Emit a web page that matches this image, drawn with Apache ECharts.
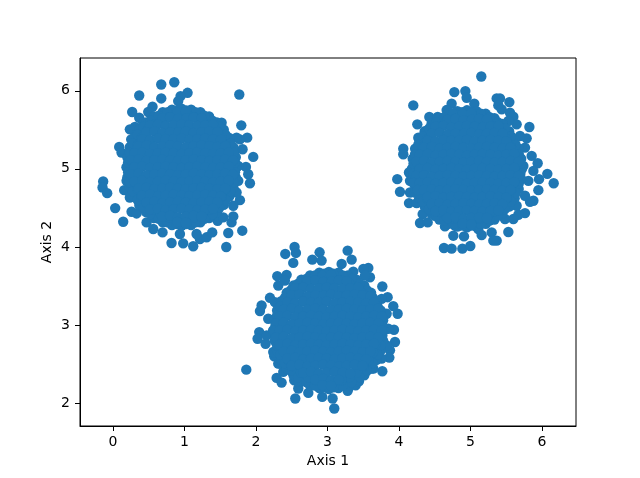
<!DOCTYPE html>
<html>
<head>
<meta charset="utf-8">
<style>html,body{margin:0;padding:0;background:#fff}#c{width:640px;height:478px}</style>
<script src="https://cdn.jsdelivr.net/npm/echarts@6/dist/echarts.min.js"></script>
</head>
<body>
<div id="c"></div>
<script>
const xTicks = [0,1,2,3,4,5,6];
const yTicks = [2,3,4,5,6];

const edgeA = [[.858,6.11],[.676,6.08],[.368,5.94],[1.767,5.953],[.676,5.902],[1.044,5.974],[.946,5.932],[.913,5.868],[.27,5.728],[.554,5.796],[.494,5.728],[.368,5.655],[1.795,5.557],[.307,5.536],[.237,5.506],[.256,5.378],[1.878,5.4],[1.776,5.378],[.088,5.281],[1.813,5.251],[.121,5.208],[1.962,5.153],[1.86,5.025],[1.892,4.931],[1.916,4.816],[-.136,4.838],[-.145,4.761],[-.08,4.689],[.158,4.727],[.032,4.497],[.261,4.45],[.331,4.429],[.144,4.323],[.471,4.314],[.564,4.229],[.694,4.186],[.82,4.05],[.983,4.046],[1.123,4.008],[1.216,4.101],[1.31,4.123],[1.389,4.186],[1.613,4.178],[1.809,4.208],[1.585,3.999],[1.659,4.314],[1.683,4.391],[1.776,4.599],[1.464,4.335]];

const bridgeA = [[.331,5.442],[.261,5.251],[.214,5.038],[.191,4.846],[.237,4.633],[.377,4.527],[1.729,5.40],[1.706,5.229],[1.753,5.038],[1.753,4.846],[1.729,4.697],[1.683,4.527],[1.543,4.378],[1.52,5.591],[.424,5.591],[1.17,4.165],[.937,4.165]];

const ringA = [[1.73,5.02],[1.718,5.15],[1.684,5.277],[1.627,5.395],[1.55,5.502],[1.455,5.595],[1.345,5.67],[1.223,5.725],[1.094,5.759],[.96,5.77],[.826,5.759],[.697,5.725],[.575,5.67],[.465,5.595],[.37,5.502],[.293,5.395],[.236,5.277],[.202,5.15],[.19,5.02],[.202,4.89],[.236,4.763],[.293,4.645],[.37,4.538],[.465,4.445],[.575,4.37],[.697,4.315],[.826,4.281],[.96,4.27],[1.094,4.281],[1.223,4.315],[1.345,4.37],[1.455,4.445],[1.55,4.538],[1.627,4.645],[1.684,4.763],[1.718,4.89]];

const outerA = [[1.707,5.084],[.213,5.084],[1.707,4.956],[.213,4.956],[1.685,5.209],[.235,5.209],[1.685,4.831],[.235,4.831],[1.64,5.329],[.28,5.329],[1.64,4.711],[.28,4.711],[1.574,5.439],[.346,5.439],[1.574,4.601],[.346,4.601],[1.49,5.536],[.43,5.536],[1.49,4.504],[.43,4.504],[1.39,5.618],[.53,5.618],[1.39,4.422],[.53,4.422],[1.277,5.681],[.643,5.681],[1.277,4.359],[.643,4.359],[1.154,5.725],[.766,5.725],[1.154,4.315],[.766,4.315],[1.025,5.747],[.895,5.747],[1.025,4.293],[.895,4.293]];

const innerA = [[1.637,5.077],[.283,5.077],[1.637,4.963],[.283,4.963],[1.617,5.191],[.303,5.191],[1.617,4.849],[.303,4.849],[1.576,5.299],[.344,5.299],[1.576,4.741],[.344,4.741],[1.517,5.399],[.403,5.399],[1.517,4.641],[.403,4.641],[1.441,5.487],[.479,5.487],[1.441,4.553],[.479,4.553],[1.35,5.561],[.57,5.561],[1.35,4.479],[.57,4.479],[1.248,5.618],[.672,5.618],[1.248,4.422],[.672,4.422],[1.136,5.658],[.784,5.658],[1.136,4.382],[.784,4.382],[1.019,5.677],[.901,5.677],[1.019,4.363],[.901,4.363]];

const coreA = [
[.90,5.72],[1.02,5.73],
[.69,5.65],[.80,5.66],[.91,5.64],[1.03,5.65],[1.13,5.66],[1.24,5.65],
[.52,5.56],[.63,5.57],[.74,5.55],[.85,5.56],[.96,5.57],[1.07,5.56],[1.18,5.55],[1.29,5.56],[1.40,5.57],
[.47,5.47],[.58,5.48],[.69,5.46],[.80,5.47],[.92,5.47],[1.02,5.48],[1.13,5.46],[1.24,5.47],[1.35,5.48],[1.46,5.47],
[.41,5.38],[.52,5.37],[.63,5.39],[.74,5.38],[.85,5.38],[.96,5.39],[1.07,5.37],[1.18,5.38],[1.29,5.39],[1.40,5.38],[1.51,5.37],
[.36,5.29],[.47,5.30],[.58,5.28],[.69,5.29],[.80,5.30],[.91,5.29],[1.02,5.28],[1.13,5.29],[1.24,5.30],[1.35,5.29],[1.46,5.28],[1.57,5.29],
[.30,5.20],[.41,5.21],[.52,5.19],[.63,5.20],[.74,5.21],[.85,5.20],[.96,5.19],[1.07,5.20],[1.18,5.21],[1.29,5.20],[1.40,5.19],[1.51,5.20],[1.62,5.21],
[.25,5.11],[.36,5.12],[.47,5.10],[.58,5.11],[.69,5.12],[.80,5.11],[.91,5.10],[1.02,5.11],[1.13,5.12],[1.24,5.11],[1.35,5.10],[1.46,5.11],[1.57,5.12],[1.68,5.11],
[.30,5.02],[.41,5.03],[.52,5.01],[.63,5.02],[.74,5.03],[.85,5.02],[.96,5.01],[1.07,5.02],[1.18,5.03],[1.29,5.02],[1.40,5.01],[1.51,5.02],[1.62,5.03],
[.25,4.93],[.36,4.94],[.47,4.92],[.58,4.93],[.69,4.94],[.80,4.93],[.91,4.92],[1.02,4.93],[1.13,4.94],[1.24,4.93],[1.35,4.92],[1.46,4.93],[1.57,4.94],[1.68,4.93],
[.30,4.84],[.41,4.85],[.52,4.83],[.63,4.84],[.74,4.85],[.85,4.84],[.96,4.83],[1.07,4.84],[1.18,4.85],[1.29,4.84],[1.40,4.83],[1.51,4.84],[1.62,4.85],
[.36,4.75],[.47,4.76],[.58,4.74],[.69,4.75],[.80,4.76],[.91,4.75],[1.02,4.74],[1.13,4.75],[1.24,4.76],[1.35,4.75],[1.46,4.74],[1.57,4.75],
[.41,4.66],[.52,4.67],[.63,4.65],[.74,4.66],[.85,4.67],[.96,4.66],[1.07,4.65],[1.18,4.66],[1.29,4.67],[1.40,4.66],[1.51,4.65],
[.47,4.57],[.58,4.58],[.69,4.56],[.80,4.57],[.91,4.58],[1.02,4.57],[1.13,4.56],[1.24,4.57],[1.35,4.58],[1.46,4.57],
[.52,4.48],[.63,4.49],[.74,4.47],[.85,4.48],[.96,4.49],[1.07,4.48],[1.18,4.47],[1.29,4.48],[1.40,4.49],
[.69,4.39],[.80,4.40],[.91,4.38],[1.02,4.39],[1.13,4.40],[1.24,4.39],
[.90,4.32],[1.02,4.31]
];

const edgeB = [[5.151,6.183],[4.774,5.983],[4.928,5.996],[4.946,5.911],[5.366,5.902],[5.412,5.902],[5.543,5.855],[4.2,5.813],[4.736,5.834],[4.666,5.753],[5.053,5.834],[5.389,5.813],[5.436,5.762],[5.552,5.719],[5.599,5.668],[4.424,5.664],[4.541,5.664],[4.256,5.57],[5.823,5.536],[5.645,5.57],[4.27,5.4],[5.785,5.391],[4.06,5.259],[4.06,5.187],[5.762,5.272],[5.855,5.166],[5.939,5.072],[5.958,4.868],[5.879,4.974],[6.074,4.936],[6.163,4.816],[3.976,4.868],[4.14,4.953],[5.949,4.727],[4.014,4.706],[4.154,4.697],[5.879,4.591],[5.832,4.578],[4.14,4.561],[4.247,4.561],[5.762,4.433],[5.669,4.412],[5.599,4.357],[4.331,4.421],[4.294,4.306],[4.401,4.314],[5.529,4.191],[5.296,4.186],[5.156,4.152],[5.366,4.08],[5.319,4.08],[4.909,4.135],[4.76,4.144],[4.643,4.263],[4.629,3.986],[4.736,3.978],[4.886,3.978],[4.997,4.012]];

const bridgeB = [[4.294,5.293],[4.224,5.08],[4.154,4.846],[4.224,4.697],[4.363,4.548],[4.503,4.399],[5.692,5.421],[5.739,5.038],[5.809,4.846],[5.762,4.655],[5.645,4.527],[5.482,4.357],[5.529,5.613],[4.573,5.613],[4.783,4.272],[5.109,4.229]];

const ringB = [[5.72,5.0],[5.708,5.13],[5.674,5.257],[5.617,5.375],[5.54,5.482],[5.445,5.575],[5.335,5.65],[5.213,5.705],[5.084,5.739],[4.95,5.75],[4.816,5.739],[4.687,5.705],[4.565,5.65],[4.455,5.575],[4.36,5.482],[4.283,5.375],[4.226,5.257],[4.192,5.13],[4.18,5.0],[4.192,4.87],[4.226,4.743],[4.283,4.625],[4.36,4.518],[4.455,4.425],[4.565,4.35],[4.687,4.295],[4.816,4.261],[4.95,4.25],[5.084,4.261],[5.213,4.295],[5.335,4.35],[5.445,4.425],[5.54,4.518],[5.617,4.625],[5.674,4.743],[5.708,4.87]];

const outerB = [[5.697,5.064],[4.203,5.064],[5.697,4.936],[4.203,4.936],[5.675,5.189],[4.225,5.189],[5.675,4.811],[4.225,4.811],[5.63,5.309],[4.27,5.309],[5.63,4.691],[4.27,4.691],[5.564,5.419],[4.336,5.419],[5.564,4.581],[4.336,4.581],[5.48,5.516],[4.42,5.516],[5.48,4.484],[4.42,4.484],[5.38,5.598],[4.52,5.598],[5.38,4.402],[4.52,4.402],[5.267,5.661],[4.633,5.661],[5.267,4.339],[4.633,4.339],[5.144,5.705],[4.756,5.705],[5.144,4.295],[4.756,4.295],[5.015,5.727],[4.885,5.727],[5.015,4.273],[4.885,4.273]];

const innerB = [[5.627,5.057],[4.273,5.057],[5.627,4.943],[4.273,4.943],[5.607,5.171],[4.293,5.171],[5.607,4.829],[4.293,4.829],[5.566,5.279],[4.334,5.279],[5.566,4.721],[4.334,4.721],[5.507,5.379],[4.393,5.379],[5.507,4.621],[4.393,4.621],[5.431,5.467],[4.469,5.467],[5.431,4.533],[4.469,4.533],[5.34,5.541],[4.56,5.541],[5.34,4.459],[4.56,4.459],[5.238,5.598],[4.662,5.598],[5.238,4.402],[4.662,4.402],[5.126,5.638],[4.774,5.638],[5.126,4.362],[4.774,4.362],[5.009,5.657],[4.891,5.657],[5.009,4.343],[4.891,4.343]];

const coreB = [
[4.89,5.70],[5.01,5.71],
[4.68,5.63],[4.79,5.64],[4.90,5.62],[5.02,5.63],[5.12,5.64],[5.23,5.63],
[4.51,5.54],[4.62,5.55],[4.73,5.53],[4.84,5.54],[4.95,5.55],[5.06,5.54],[5.17,5.53],[5.28,5.54],[5.39,5.55],
[4.46,5.45],[4.57,5.46],[4.68,5.44],[4.79,5.45],[4.91,5.45],[5.01,5.46],[5.12,5.44],[5.23,5.45],[5.34,5.46],[5.45,5.45],
[4.40,5.36],[4.51,5.35],[4.62,5.37],[4.73,5.36],[4.84,5.36],[4.95,5.37],[5.06,5.35],[5.17,5.36],[5.28,5.37],[5.39,5.36],[5.50,5.35],
[4.35,5.27],[4.46,5.28],[4.57,5.26],[4.68,5.27],[4.79,5.28],[4.90,5.27],[5.01,5.26],[5.12,5.27],[5.23,5.28],[5.34,5.27],[5.45,5.26],[5.56,5.27],
[4.29,5.18],[4.40,5.19],[4.51,5.17],[4.62,5.18],[4.73,5.19],[4.84,5.18],[4.95,5.17],[5.06,5.18],[5.17,5.19],[5.28,5.18],[5.39,5.17],[5.50,5.18],[5.61,5.19],
[4.24,5.09],[4.35,5.10],[4.46,5.08],[4.57,5.09],[4.68,5.10],[4.79,5.09],[4.90,5.08],[5.01,5.09],[5.12,5.10],[5.23,5.09],[5.34,5.08],[5.45,5.09],[5.56,5.10],[5.67,5.09],
[4.29,5.00],[4.40,5.01],[4.51,4.99],[4.62,5.00],[4.73,5.01],[4.84,5.00],[4.95,4.99],[5.06,5.00],[5.17,5.01],[5.28,5.00],[5.39,4.99],[5.50,5.00],[5.61,5.01],
[4.24,4.91],[4.35,4.92],[4.46,4.90],[4.57,4.91],[4.68,4.92],[4.79,4.91],[4.90,4.90],[5.01,4.91],[5.12,4.92],[5.23,4.91],[5.34,4.90],[5.45,4.91],[5.56,4.92],[5.67,4.91],
[4.20,4.82],[4.29,4.82],[4.40,4.83],[4.51,4.81],[4.62,4.82],[4.73,4.83],[4.84,4.82],[4.95,4.81],[5.06,4.82],[5.17,4.83],[5.28,4.82],[5.39,4.81],[5.50,4.82],[5.61,4.83],
[4.26,4.73],[4.35,4.73],[4.46,4.74],[4.57,4.72],[4.68,4.73],[4.79,4.74],[4.90,4.73],[5.01,4.72],[5.12,4.73],[5.23,4.74],[5.34,4.73],[5.45,4.72],[5.56,4.73],
[4.40,4.64],[4.51,4.65],[4.62,4.63],[4.73,4.64],[4.84,4.65],[4.95,4.64],[5.06,4.63],[5.17,4.64],[5.28,4.65],[5.39,4.64],[5.50,4.63],
[4.46,4.55],[4.57,4.56],[4.68,4.54],[4.79,4.55],[4.90,4.56],[5.01,4.55],[5.12,4.54],[5.23,4.55],[5.34,4.56],[5.45,4.55],
[4.51,4.46],[4.62,4.47],[4.73,4.45],[4.84,4.46],[4.95,4.47],[5.06,4.46],[5.17,4.45],[5.28,4.46],[5.39,4.47],
[4.68,4.37],[4.79,4.38],[4.90,4.36],[5.01,4.37],[5.12,4.38],[5.23,4.37],
[4.89,4.30],[5.01,4.29]
];

const edgeC = [[2.54,3.999],[2.41,3.91],[2.559,3.923],[2.522,3.795],[2.89,3.931],[3.282,3.952],[3.338,3.837],[2.788,3.837],[2.918,3.825],[3.198,3.782],[3.571,3.731],[3.501,3.718],[3.361,3.684],[2.298,3.625],[2.429,3.642],[3.594,3.612],[2.312,3.505],[3.767,3.493],[3.841,3.356],[2.196,3.348],[2.079,3.25],[2.056,3.178],[3.92,3.241],[3.981,3.144],[3.93,2.939],[3.944,2.782],[2.046,2.909],[2.023,2.824],[2.135,2.76],[3.874,2.675],[3.865,2.582],[2.256,2.599],[3.767,2.407],[3.641,2.441],[1.865,2.428],[2.382,2.399],[2.289,2.322],[2.359,2.262],[2.536,2.292],[2.592,2.186],[2.55,2.058],[2.732,2.13],[2.927,2.079],[3.072,2.058],[3.095,1.93],[3.282,2.156],[3.394,2.228],[3.44,2.279],[2.335,2.505]];

const bridgeC = [[2.265,3.293],[2.172,3.08],[2.149,2.867],[2.242,2.654],[2.312,2.505],[3.757,3.335],[3.827,3.144],[3.85,2.952],[3.827,2.739],[3.757,2.569],[3.617,2.441],[3.524,3.633],[2.405,3.569],[2.592,2.271],[3.291,2.186]];

const ringC = [[3.79,2.93],[3.778,3.06],[3.744,3.187],[3.687,3.305],[3.61,3.412],[3.515,3.505],[3.405,3.58],[3.283,3.635],[3.154,3.669],[3.02,3.68],[2.886,3.669],[2.757,3.635],[2.635,3.58],[2.525,3.505],[2.43,3.412],[2.353,3.305],[2.296,3.187],[2.262,3.06],[2.25,2.93],[2.262,2.8],[2.296,2.673],[2.353,2.555],[2.43,2.448],[2.525,2.355],[2.635,2.28],[2.757,2.225],[2.886,2.191],[3.02,2.18],[3.154,2.191],[3.283,2.225],[3.405,2.28],[3.515,2.355],[3.61,2.448],[3.687,2.555],[3.744,2.673],[3.778,2.8]];

const outerC = [[3.767,2.994],[2.273,2.994],[3.767,2.866],[2.273,2.866],[3.745,3.119],[2.295,3.119],[3.745,2.741],[2.295,2.741],[3.70,3.239],[2.34,3.239],[3.70,2.621],[2.34,2.621],[3.634,3.349],[2.406,3.349],[3.634,2.511],[2.406,2.511],[3.55,3.446],[2.49,3.446],[3.55,2.414],[2.49,2.414],[3.45,3.528],[2.59,3.528],[3.45,2.332],[2.59,2.332],[3.337,3.591],[2.703,3.591],[3.337,2.269],[2.703,2.269],[3.214,3.635],[2.826,3.635],[3.214,2.225],[2.826,2.225],[3.085,3.657],[2.955,3.657],[3.085,2.203],[2.955,2.203]];

const innerC = [[3.697,2.987],[2.343,2.987],[3.697,2.873],[2.343,2.873],[3.677,3.101],[2.363,3.101],[3.677,2.759],[2.363,2.759],[3.636,3.209],[2.404,3.209],[3.636,2.651],[2.404,2.651],[3.577,3.309],[2.463,3.309],[3.577,2.551],[2.463,2.551],[3.501,3.397],[2.539,3.397],[3.501,2.463],[2.539,2.463],[3.41,3.471],[2.63,3.471],[3.41,2.389],[2.63,2.389],[3.308,3.528],[2.732,3.528],[3.308,2.332],[2.732,2.332],[3.196,3.568],[2.844,3.568],[3.196,2.292],[2.844,2.292],[3.079,3.587],[2.961,3.587],[3.079,2.273],[2.961,2.273]];

const coreC = [
[2.93,3.63],[3.05,3.64],
[2.72,3.56],[2.83,3.57],[2.94,3.55],[3.06,3.56],[3.16,3.57],[3.27,3.56],
[2.55,3.47],[2.66,3.48],[2.77,3.46],[2.88,3.47],[2.99,3.48],[3.10,3.47],[3.21,3.46],[3.32,3.47],[3.43,3.48],
[2.50,3.38],[2.61,3.39],[2.72,3.37],[2.83,3.38],[2.95,3.38],[3.05,3.39],[3.16,3.37],[3.27,3.38],[3.38,3.39],[3.49,3.38],[3.60,3.37],
[2.44,3.29],[2.55,3.28],[2.66,3.30],[2.77,3.29],[2.88,3.29],[2.99,3.30],[3.10,3.28],[3.21,3.29],[3.32,3.30],[3.43,3.29],[3.54,3.28],[3.65,3.29],
[2.39,3.20],[2.50,3.21],[2.61,3.19],[2.72,3.20],[2.83,3.21],[2.94,3.20],[3.05,3.19],[3.16,3.20],[3.27,3.21],[3.38,3.20],[3.49,3.19],[3.60,3.20],[3.71,3.21],
[2.33,3.11],[2.44,3.12],[2.55,3.10],[2.66,3.11],[2.77,3.12],[2.88,3.11],[2.99,3.10],[3.10,3.11],[3.21,3.12],[3.32,3.11],[3.43,3.10],[3.54,3.11],[3.65,3.12],[3.76,3.11],
[2.28,3.02],[2.39,3.03],[2.50,3.01],[2.61,3.02],[2.72,3.03],[2.83,3.02],[2.94,3.01],[3.05,3.02],[3.16,3.03],[3.27,3.02],[3.38,3.01],[3.49,3.02],[3.60,3.03],[3.71,3.02],
[2.24,2.93],[2.33,2.93],[2.44,2.94],[2.55,2.92],[2.66,2.93],[2.77,2.94],[2.88,2.93],[2.99,2.92],[3.10,2.93],[3.21,2.94],[3.32,2.93],[3.43,2.92],[3.54,2.93],[3.65,2.94],[3.76,2.93],
[2.28,2.84],[2.39,2.85],[2.50,2.83],[2.61,2.84],[2.72,2.85],[2.83,2.84],[2.94,2.83],[3.05,2.84],[3.16,2.85],[3.27,2.84],[3.38,2.83],[3.49,2.84],[3.60,2.85],[3.71,2.84],
[2.33,2.75],[2.44,2.76],[2.55,2.74],[2.66,2.75],[2.77,2.76],[2.88,2.75],[2.99,2.74],[3.10,2.75],[3.21,2.76],[3.32,2.75],[3.43,2.74],[3.54,2.75],[3.65,2.76],
[2.39,2.66],[2.50,2.67],[2.61,2.65],[2.72,2.66],[2.83,2.67],[2.94,2.66],[3.05,2.65],[3.16,2.66],[3.27,2.67],[3.38,2.66],[3.49,2.65],[3.60,2.66],
[2.44,2.57],[2.55,2.58],[2.66,2.56],[2.77,2.57],[2.88,2.58],[2.99,2.57],[3.10,2.56],[3.21,2.57],[3.32,2.58],[3.43,2.57],[3.54,2.56],
[2.50,2.48],[2.61,2.49],[2.72,2.47],[2.83,2.48],[2.94,2.49],[3.05,2.48],[3.16,2.47],[3.27,2.48],[3.38,2.49],[3.49,2.48],
[2.66,2.39],[2.77,2.40],[2.88,2.38],[2.99,2.39],[3.10,2.40],[3.21,2.39],[3.32,2.38],
[2.83,2.30],[2.94,2.31],[3.05,2.29],[3.16,2.30],
[2.93,2.23],[3.05,2.22]
];

const chart = echarts.init(document.getElementById('c'), null, {renderer:'canvas'});
const axisBase = {
  nameLocation:'middle',
  nameMoveOverlap:false,
  nameTextStyle:{color:'#000',fontFamily:'DejaVu Sans',fontSize:14},
  axisLine:{show:true,onZero:false,lineStyle:{color:'#000',width:1}},
  splitLine:{show:false}
};
chart.setOption({
  animation:false,
  backgroundColor:'#fff',
  grid:{left:80,top:58,width:496,height:368,show:true,borderColor:'#000',borderWidth:1,backgroundColor:'transparent',containLabel:false},
  xAxis:Object.assign({},axisBase,{
    type:'value',name:'Axis 1',nameGap:28,min:-0.46,max:6.475,
    axisTick:{show:true,length:5,customValues:xTicks,lineStyle:{color:'#000',width:1}},
    axisLabel:{show:true,customValues:xTicks,color:'#000',fontFamily:'DejaVu Sans',fontSize:14,margin:9,formatter:v=>String(v)}
  }),
  yAxis:Object.assign({},axisBase,{
    type:'value',name:'Axis 2',nameGap:26,min:1.706,max:6.42,
    axisTick:{show:true,length:5,customValues:yTicks,lineStyle:{color:'#000',width:1}},
    axisLabel:{show:true,customValues:yTicks,color:'#000',fontFamily:'DejaVu Sans',fontSize:14,margin:10,formatter:v=>String(v)}
  }),
  series:[{
    type:'scatter',
    symbol:'circle',
    symbolSize:10.4,
    itemStyle:{color:'#1f77b4',opacity:1},
    data:[].concat(edgeA,bridgeA,ringA,outerA,innerA,coreA,edgeB,bridgeB,ringB,outerB,innerB,coreB,edgeC,bridgeC,ringC,outerC,innerC,coreC)
  }]
});
</script>
</body>
</html>
